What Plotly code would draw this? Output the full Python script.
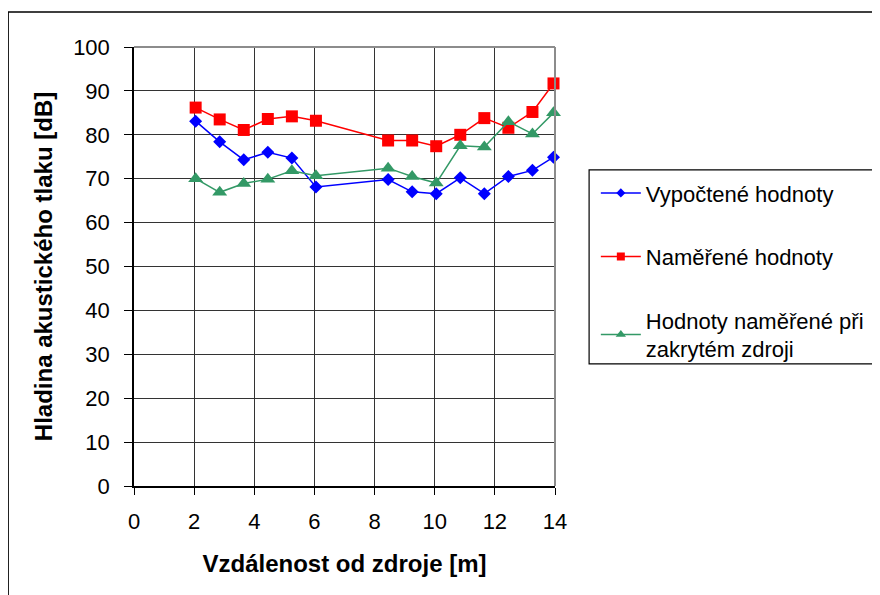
import plotly.graph_objects as go

# ---- data ----
distance_m = [2.05, 2.85, 3.65, 4.45, 5.25, 6.05, 8.45, 9.25, 10.05, 10.85, 11.65, 12.45, 13.25, 13.95]
vypoctene = [83.1, 78.4, 74.3, 76.0, 74.7, 68.1, 69.8, 67.0, 66.6, 70.2, 66.6, 70.5, 71.9, 74.9]
namerene = [86.2, 83.5, 81.1, 83.6, 84.2, 83.2, 78.7, 78.7, 77.4, 80.0, 83.8, 81.6, 85.2, 91.7]
zakryty = [70.0, 66.9, 68.9, 69.9, 71.8, 70.7, 72.4, 70.5, 69.0, 77.5, 77.2, 83.0, 80.2, 85.0]

series_names = ["Vypočtené hodnoty", "Naměřené hodnoty", "Hodnoty naměřené při<br>zakrytém zdroji"]
series_colors = ["#0000FF", "#FF0000", "#339966"]
series_symbols = ["diamond", "square", "triangle-up"]
series_values = [vypoctene, namerene, zakryty]
marker_sizes = [10, 12, 13]
legend_marker_sizes = [7, 8, 9]

x_title = "Vzdálenost od zdroje [m]"
y_title = "Hladina akustického tlaku [dB]"
x_ticks = [0, 2, 4, 6, 8, 10, 12, 14]
y_ticks = [0, 10, 20, 30, 40, 50, 60, 70, 80, 90, 100]

FONT = "Liberation Sans, Arial, sans-serif"

fig = go.Figure()

# plotted series (no legend)
for name, col, sym, vals, ms in zip(series_names, series_colors, series_symbols, series_values, marker_sizes):
    fig.add_trace(go.Scatter(
        x=distance_m, y=vals, mode="lines+markers", name=name,
        line=dict(color=col, width=1.5),
        marker=dict(color=col, symbol=sym, size=ms, line=dict(width=0)),
        showlegend=False, cliponaxis=False,
    ))

# legend entries with smaller symbols
for i, (name, col, sym, lms) in enumerate(zip(series_names, series_colors, series_symbols, legend_marker_sizes)):
    fig.add_trace(go.Scatter(
        x=[None], y=[None], mode="lines+markers", name=name,
        line=dict(color=col, width=1.5),
        marker=dict(color=col, symbol=sym, size=lms, line=dict(width=0)),
        legendgroup=f"g{i}", showlegend=True,
    ))

axis_common = dict(
    showgrid=True, gridcolor="#333333", gridwidth=1,
    showline=True, linecolor="black", linewidth=1.5,
    ticks="outside", tickcolor="black", tickwidth=1,
    tickfont=dict(family=FONT, size=22, color="black"),
    zeroline=False, automargin=False,
)

fig.update_layout(
    width=880, height=595,
    margin=dict(l=126, r=333, t=39, b=117),
    paper_bgcolor="white", plot_bgcolor="white",
    font=dict(family=FONT, color="black"),
    xaxis=dict(
        range=[0, 14], tickvals=x_ticks, ticklen=7, ticklabelstandoff=8,
        title=dict(text=f"<b>{x_title}</b>", font=dict(family=FONT, size=24), standoff=22),
        **axis_common,
    ),
    yaxis=dict(
        range=[0, 100], tickvals=y_ticks, ticklen=8, ticklabelstandoff=10,
        title=dict(text=f"<b>{y_title}</b>", font=dict(family=FONT, size=24), standoff=14),
        **axis_common,
    ),
    legend=dict(
        x=1.097, y=0.715, xanchor="left", yanchor="top",
        font=dict(family=FONT, size=22, color="black"),
        bgcolor="rgba(0,0,0,0)", borderwidth=0,
        tracegroupgap=32, itemwidth=40,
    ),
    showlegend=True,
)

shapes = [
    # gray top and right borders of plot area
    dict(type="line", xref="paper", yref="paper", x0=0, x1=1, y0=1, y1=1,
         line=dict(color="#8c8c8c", width=2)),
    dict(type="line", xref="paper", yref="paper", x0=1, x1=1, y0=0, y1=1,
         line=dict(color="#8c8c8c", width=2)),
    # legend box
    dict(type="rect", xref="paper", yref="paper", x0=1.081, x1=1.9, y0=0.278, y1=0.72,
         line=dict(color="black", width=1.2), fillcolor="rgba(0,0,0,0)"),
    # outer chart frame
    dict(type="rect", xref="paper", yref="paper", x0=-0.299, x1=1.9, y0=-0.5, y1=1.0797,
         line=dict(color="black", width=1.5), fillcolor="rgba(0,0,0,0)"),
]
fig.update_layout(shapes=shapes)

fig.write_html("out.html")
